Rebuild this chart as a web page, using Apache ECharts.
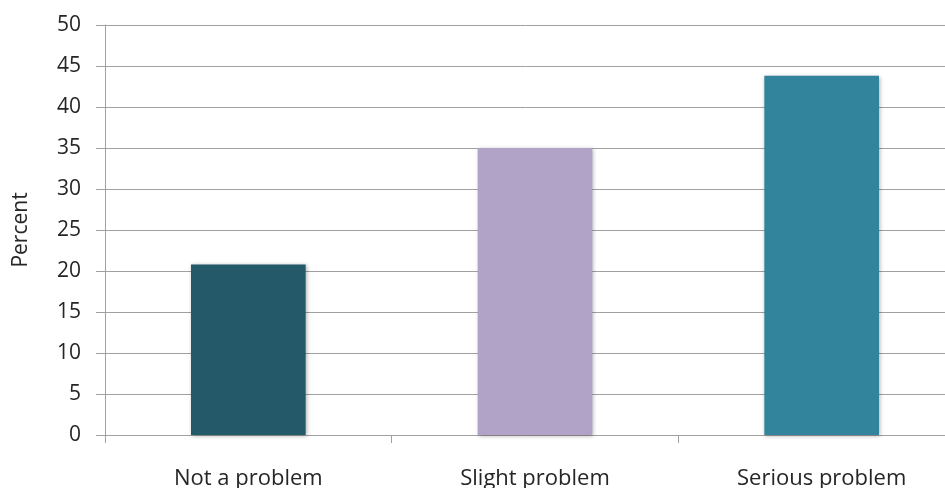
<!DOCTYPE html>
<html><head><meta charset="utf-8">
<script src="https://cdn.jsdelivr.net/npm/echarts@6/dist/echarts.min.js"></script>
<style>html,body{margin:0;padding:0;background:#fff}#c{width:945px;height:488px}</style>
</head><body><div id="c"></div>
<script>
var categories = ['Not a problem', 'Slight problem', 'Serious problem'];
var values = [20.8, 35.0, 43.8];
var barColors = ['#235968', '#b1a2c8', '#31849b'];
var yTicks = { min: 0, max: 50, interval: 5 };
var yTitle = 'Percent';

var chart = echarts.init(document.getElementById('c'), null, { renderer: 'canvas' });
var font = '"Open Sans", "Liberation Sans", sans-serif';
chart.setOption({
  animation: false,
  grid: { left: 105, top: 25, width: 860, height: 410, outerBoundsMode: 'none' },
  xAxis: {
    type: 'category',
    data: categories,
    axisLine: { lineStyle: { color: '#a0a0a0', width: 1 } },
    axisTick: { show: true, alignWithLabel: false, length: 8, lineStyle: { color: '#a0a0a0' } },
    axisLabel: { color: '#262626', fontSize: 22, fontFamily: font, margin: 33 }
  },
  yAxis: {
    type: 'value',
    min: yTicks.min, max: yTicks.max, interval: yTicks.interval,
    name: yTitle,
    nameLocation: 'middle',
    nameGap: 73,
    nameRotate: 90,
    nameTextStyle: { color: '#262626', fontSize: 21, fontFamily: font },
    axisLine: { show: true, lineStyle: { color: '#a0a0a0', width: 1 } },
    axisTick: { show: true, length: 9, lineStyle: { color: '#a0a0a0' } },
    axisLabel: { color: '#262626', fontSize: 21, fontFamily: font, margin: 24 },
    splitLine: { lineStyle: { color: '#a0a0a0', width: 1 } }
  },
  series: [{
    type: 'bar',
    barWidth: '40%',
    data: values.map(function (v, i) {
      return { value: v, itemStyle: { color: barColors[i] } };
    }),
    itemStyle: { shadowBlur: 4, shadowColor: 'rgba(0,0,0,0.3)', shadowOffsetX: 1, shadowOffsetY: 1 }
  }]
});
</script></body></html>
